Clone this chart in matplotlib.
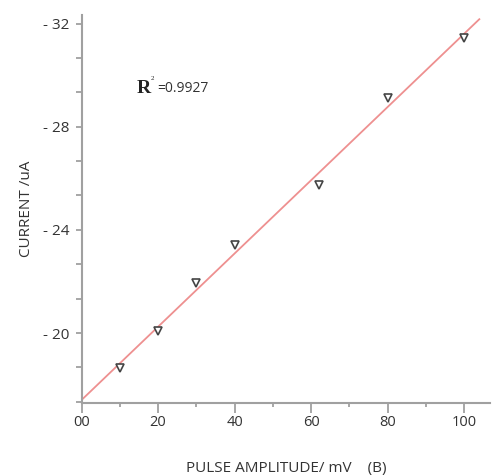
import numpy as np
import matplotlib
matplotlib.use("Agg")
import matplotlib.pyplot as plt
from matplotlib.ticker import FixedLocator, FuncFormatter

# --- Data ---
pulse_amplitude = [10, 20, 30, 40, 62, 80, 100]          # mV
current = [-18.65, -20.1, -21.93, -23.4, -25.75, -29.1, -31.45]  # uA
r_squared = "0.9927"

x_ticks = [0, 20, 40, 60, 80, 100]
x_tick_labels = ["00", "20", "40", "60", "80", "100"]
y_major = [-32, -28, -24, -20]

# --- Fit ---
slope, intercept = np.polyfit(pulse_amplitude, current, 1)
fit_x = np.array([0, 104])
fit_y = slope * fit_x + intercept

# --- Plot ---
plt.rcParams["font.family"] = ["Open Sans", "DejaVu Sans"]
fig = plt.figure(figsize=(4.94, 4.75), dpi=100)
ax = fig.add_axes([0.165, 0.1516, 0.827, 0.8168])

ax.plot(fit_x, fit_y, color="#ee9090", lw=1.3, zorder=2)
ax.plot(pulse_amplitude, current, linestyle="none", marker="v", markersize=6,
        markerfacecolor="white", markeredgecolor="#444444", markeredgewidth=1.2, zorder=3)

ax.set_xlim(0, 106.8)
ax.set_ylim(-17.29, -32.33)

for side in ("top", "right"):
    ax.spines[side].set_visible(False)
for side in ("left", "bottom"):
    ax.spines[side].set_color("#a0a0a0")
    ax.spines[side].set_linewidth(1.5)

ax.set_xticks(x_ticks)
ax.set_xticklabels(x_tick_labels)
ax.xaxis.set_minor_locator(FixedLocator(np.arange(10, 110, 20)))
ax.yaxis.set_major_locator(FixedLocator(y_major))
ax.yaxis.set_minor_locator(FixedLocator(np.arange(-32, -17, 4 / 3)))
ax.yaxis.set_major_formatter(FuncFormatter(lambda v, p: f"- {abs(v):g}"))

ax.tick_params(axis="x", which="major", length=7, width=1.3, color="#a0a0a0",
               labelsize=10.5, labelcolor="#333333", pad=2)
ax.tick_params(axis="x", which="minor", length=3, width=1.3, color="#a0a0a0")
ax.tick_params(axis="y", which="both", length=4, width=1.3, color="#a0a0a0",
               labelsize=11, labelcolor="#333333", pad=5)

ax.set_xlabel("PULSE AMPLITUDE/ mV    (B)", fontsize=11, color="#333333", labelpad=22)
ax.set_ylabel("CURRENT /uA", fontsize=11, color="#333333", labelpad=6)

ax.text(14.3, -29.5, "R", fontsize=14, family="Liberation Serif", weight="bold",
        color="#222222", va="center")
ax.text(18.0, -29.85, "2", fontsize=5, family="Liberation Serif", color="#222222", va="center")
ax.text(19.7, -29.5, "=" + r_squared, fontsize=10, color="#333333", va="center")

fig.savefig("out.png", dpi=100)
